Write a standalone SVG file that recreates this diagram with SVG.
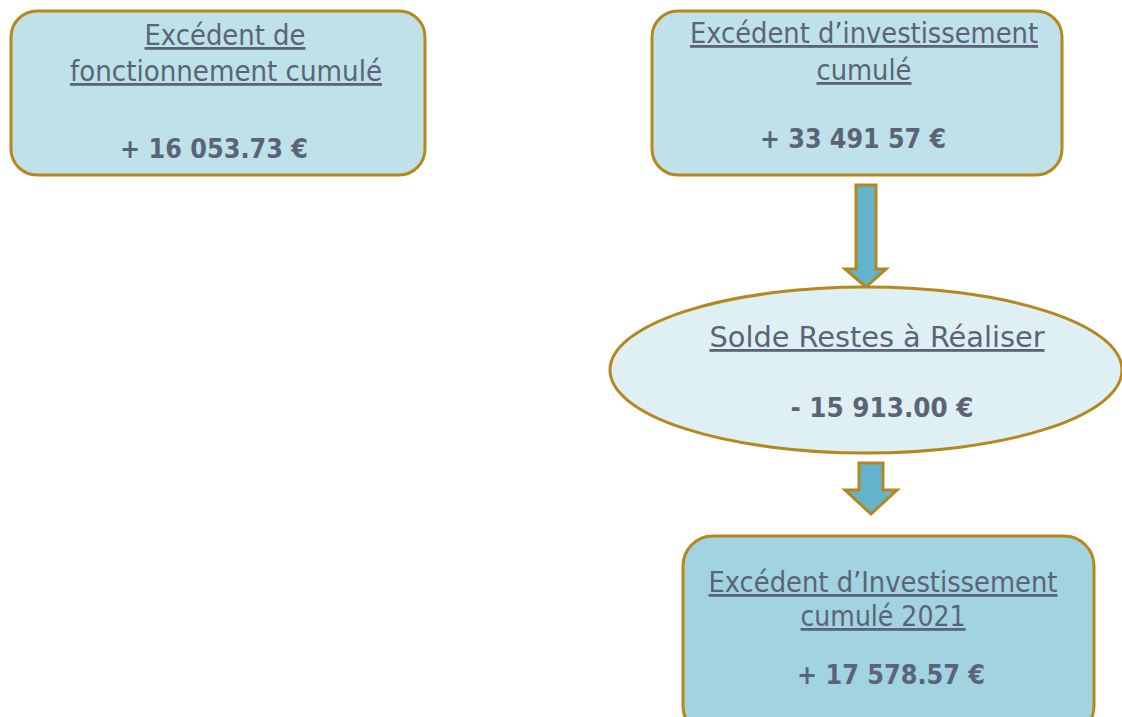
<svg xmlns="http://www.w3.org/2000/svg" width="1122" height="717" viewBox="0 0 1122 717">
  <style>
    .box { stroke: #b5871c; stroke-width: 3; }
    .light { fill: #bee1ea; }
    .oval { fill: #dff0f4; }
    .dark { fill: #a1d3e0; }
    .arrow { fill: #62b3cc; stroke: #b5871c; stroke-width: 3; stroke-linejoin: miter; }
    text { font-family: "DejaVu Sans Condensed", "DejaVu Sans", "Noto Sans", sans-serif; fill: #5b6477; text-anchor: middle; }
    .title { font-size: 28px; text-decoration: underline; }
    .value { font-size: 27px; font-weight: bold; }
  </style>
  <rect width="1122" height="717" fill="#ffffff"/>

  <g id="connectors">
    <path class="arrow" d="M856,185 H876 V269 H886 L866,287 L845,269 H856 Z"/>
    <path class="arrow" d="M859,463 H883 V490 H897 L871,514 L845,490 H859 Z"/>
  </g>

  <g id="excedent-fonctionnement">
    <rect class="box light" x="11" y="11" width="414" height="164" rx="26"/>
    <text class="title" x="225" y="45" textLength="161" lengthAdjust="spacingAndGlyphs">Excédent de</text>
    <text class="title" x="226" y="81" textLength="312" lengthAdjust="spacingAndGlyphs">fonctionnement cumulé</text>
    <text class="value" x="214" y="158" textLength="188" lengthAdjust="spacingAndGlyphs">+ 16 053.73 €</text>
  </g>

  <g id="excedent-investissement">
    <rect class="box light" x="652" y="11" width="410" height="164" rx="26"/>
    <text class="title" x="864" y="43" textLength="348" lengthAdjust="spacingAndGlyphs">Excédent d’investissement</text>
    <text class="title" x="864" y="80" textLength="95" lengthAdjust="spacingAndGlyphs">cumulé</text>
    <text class="value" x="853" y="148" textLength="186" lengthAdjust="spacingAndGlyphs">+ 33 491 57 €</text>
  </g>

  <g id="solde-restes">
    <ellipse class="box oval" cx="866" cy="370" rx="256" ry="83"/>
    <text class="title" x="877" y="347" textLength="335" lengthAdjust="spacingAndGlyphs">Solde Restes à Réaliser</text>
    <text class="value" x="882" y="417" textLength="183" lengthAdjust="spacingAndGlyphs">- 15 913.00 €</text>
  </g>

  <g id="excedent-2021">
    <rect class="box dark" x="683" y="536" width="411" height="200" rx="30"/>
    <text class="title" x="883" y="592" textLength="349" lengthAdjust="spacingAndGlyphs">Excédent d’Investissement</text>
    <text class="title" x="883" y="626" textLength="165" lengthAdjust="spacingAndGlyphs">cumulé 2021</text>
    <text class="value" x="891" y="684" textLength="188" lengthAdjust="spacingAndGlyphs">+ 17 578.57 €</text>
  </g>
</svg>
